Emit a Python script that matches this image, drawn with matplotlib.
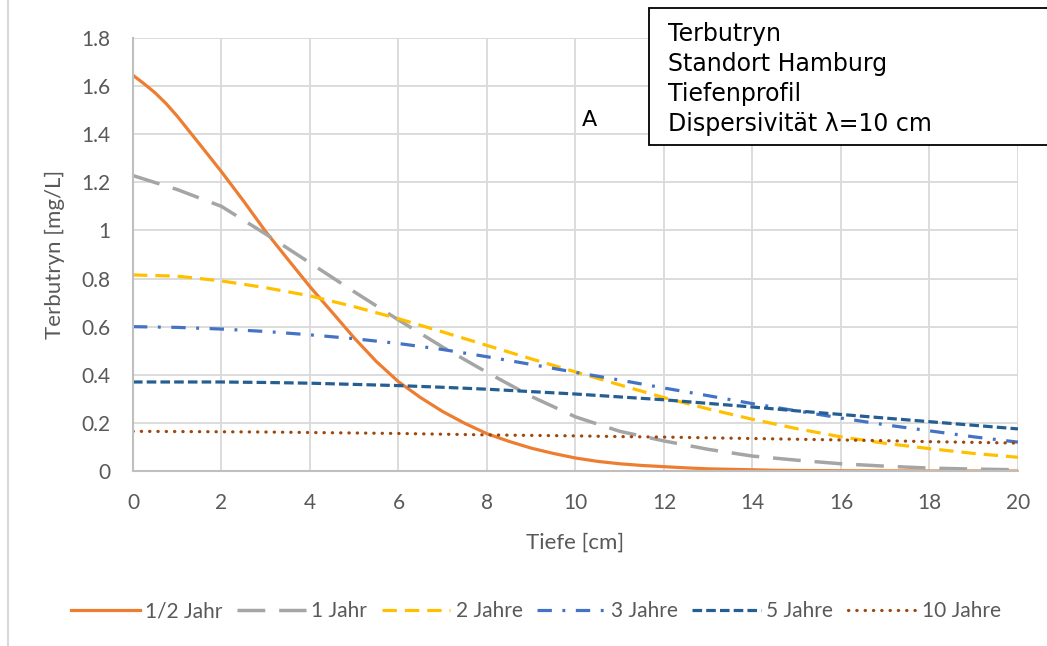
import numpy as np
import matplotlib.pyplot as plt
from matplotlib.lines import Line2D

# depth [cm]
tiefe = list(range(0, 21))
tiefe_fein = [0, 0.25, 0.5, 0.75] + [0.5 * i for i in range(2, 41)]

# Terbutryn concentration [mg/L] per time step
halbes_jahr = [1.645, 1.61, 1.572, 1.527, 1.475, 1.36, 1.244, 1.122, 0.995, 0.88,
               0.766, 0.66, 0.553, 0.455, 0.371, 0.305, 0.247, 0.198, 0.155, 0.123,
               0.095, 0.073, 0.054, 0.04, 0.03, 0.023, 0.018, 0.013, 0.009, 0.007,
               0.005, 0.003, 0.002, 0.0015, 0.001, 0.0007, 0.0005, 0.0003, 0.0, 0.0,
               0.0, 0.0, 0.0]
ein_jahr = [1.228, 1.17, 1.10, 0.985, 0.865, 0.745, 0.628, 0.515, 0.41, 0.31, 0.225,
            0.165, 0.125, 0.09, 0.062, 0.045, 0.03, 0.02, 0.012, 0.008, 0.005]
zwei_jahre = [0.815, 0.81, 0.79, 0.762, 0.728, 0.683, 0.633, 0.578, 0.522, 0.466, 0.412,
              0.358, 0.305, 0.258, 0.215, 0.176, 0.142, 0.115, 0.093, 0.073, 0.057]
drei_jahre = [0.60, 0.597, 0.59, 0.58, 0.566, 0.55, 0.53, 0.505, 0.475, 0.443, 0.41,
              0.378, 0.345, 0.313, 0.28, 0.25, 0.22, 0.192, 0.167, 0.142, 0.12]
fuenf_jahre = [0.37, 0.37, 0.37, 0.368, 0.365, 0.36, 0.355, 0.348, 0.34, 0.33, 0.32,
               0.308, 0.296, 0.281, 0.266, 0.25, 0.235, 0.22, 0.205, 0.19, 0.175]
zehn_jahre = [0.165, 0.164, 0.163, 0.162, 0.16, 0.158, 0.156, 0.153, 0.15, 0.148, 0.146,
              0.143, 0.141, 0.138, 0.135, 0.132, 0.129, 0.126, 0.122, 0.119, 0.116]

labels = ["1/2 Jahr", "1 Jahr", "2 Jahre", "3 Jahre", "5 Jahre", "10 Jahre"]

textcol = "#595959"
font = "Lato"

fig = plt.figure(figsize=(10.47, 6.46), dpi=100)
ax = fig.add_axes([0.127, 0.2709, 0.8453, 0.6703])

ax.plot(tiefe_fein, halbes_jahr, color="#ED7D31", lw=2.3, label=labels[0])
ax.plot(tiefe, ein_jahr, color="#A5A5A5", lw=2.5, dashes=(8, 4), label=labels[1])
ax.plot(tiefe, zwei_jahre, color="#FFC000", lw=2.3, dashes=(4.5, 2.5), label=labels[2])
ax.plot(tiefe, drei_jahre, color="#4472C4", lw=2.3, dashes=(4.5, 3.3, 0.9, 3.3), label=labels[3])
ax.plot(tiefe, fuenf_jahre, color="#255E91", lw=2.3, dashes=(3, 1.3), label=labels[4])
ax.plot(tiefe, zehn_jahre, color="#9E480E", lw=2.3, dashes=(0.1, 2.5),
        dash_capstyle="round", label=labels[5])

ax.set_xlim(0, 20)
ax.set_ylim(0, 1.8)
ax.set_xticks([2 * i for i in range(11)])
ax.set_xticklabels([str(2 * i) for i in range(11)])
yt = [0.2 * i for i in range(10)]
ax.set_yticks(yt)
ax.set_yticklabels(["0", "0.2", "0.4", "0.6", "0.8", "1", "1.2", "1.4", "1.6", "1.8"])
ax.tick_params(length=0, labelsize=15, labelcolor=textcol)
ax.tick_params(axis="x", pad=16)
ax.tick_params(axis="y", pad=16)
for lab in ax.get_xticklabels() + ax.get_yticklabels():
    lab.set_fontfamily(font)

ax.grid(True, color="#D9D9D9", lw=1.3)
ax.set_axisbelow(True)
for s in ["top", "right"]:
    ax.spines[s].set_visible(False)
for s in ["left", "bottom"]:
    ax.spines[s].set_color("#BFBFBF")
    ax.spines[s].set_linewidth(1.5)

ax.set_xlabel("Tiefe [cm]", fontsize=16, color=textcol, fontfamily=font, labelpad=14)
ax.set_ylabel("Terbutryn [mg/L]", fontsize=16, color=textcol, fontfamily=font, labelpad=12)

ax.text(10.15, 1.46, "A", fontsize=16, color="black", fontfamily="DejaVu Sans",
        ha="left", va="center")

# info box
fig.patches.append(plt.Rectangle((649 / 1047, 1 - 145 / 646), 420 / 1047, 137 / 646,
                                 transform=fig.transFigure, facecolor="white",
                                 edgecolor="black", lw=1.3, zorder=5))
fig.text(668 / 1047, 1 - 79 / 646,
         "Terbutryn\nStandort Hamburg\nTiefenprofil\nDispersivität λ=10 cm",
         fontsize=17, fontfamily="DejaVu Sans", color="black", linespacing=1.3,
         va="center", ha="left", zorder=6)

# chart border on the left
fig.add_artist(Line2D([8 / 1047, 8 / 1047], [0, 1], color="#D9D9D9", lw=1.5))

leg = fig.legend(loc="center", bbox_to_anchor=(0.512, 1 - 611 / 646), ncol=6, frameon=False,
                 handlelength=3.3, handletextpad=0.25, columnspacing=0.7,
                 prop={"family": font, "size": 15})
for t in leg.get_texts():
    t.set_color(textcol)

fig.savefig("out.png", dpi=100)
